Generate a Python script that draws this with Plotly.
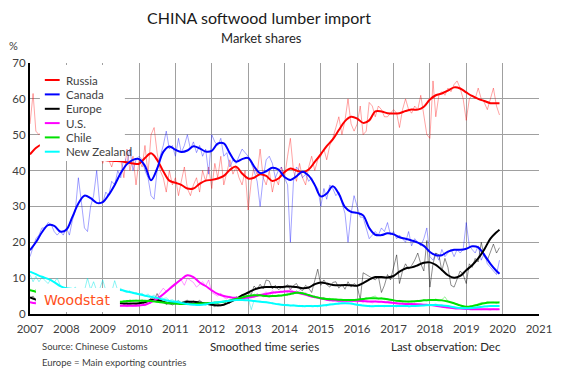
import pandas as pd
import plotly.graph_objects as go

# ---------------- data ----------------
series_names = ["Russia", "Canada", "Europe", "U.S.", "Chile", "New Zealand"]

# monthly shares (%), Jan 2007 .. Dec 2019
russia_m = [
    53, 61.5, 51, 50, 51, 48, 46, 47, 49, 45, 47, 46,
    46, 44, 47, 45, 46, 44, 45, 43, 46, 44, 43, 45,
    42, 44, 43, 41, 44, 43, 43, 38, 46, 40, 44, 36,
    43, 41, 47, 39, 50, 52, 45, 40, 38, 34, 40, 36,
    38, 33, 37, 41, 35, 33, 36, 38, 34, 40, 37, 41,
    35, 42, 38, 44, 36, 40, 43, 39, 41, 38, 36, 40,
    29, 37, 41, 39, 46, 38, 36, 40, 34, 38, 36, 41,
    38, 44, 49, 40, 37, 42, 38, 36, 41, 44, 40, 43,
    44, 46, 43, 47, 49, 52, 55, 50, 54, 60, 53, 51,
    53, 58, 50, 51, 59, 58, 55, 58, 57, 55, 55, 56,
    57, 56, 52, 57, 60, 57, 56, 58, 57, 61, 55, 50,
    49, 65, 55, 61, 62, 61, 63, 62, 64, 65, 63, 60,
    54, 60, 61, 60, 63, 60, 59, 57, 60, 63, 58, 55.5,
]
canada_m = [
    16, 19, 21, 22, 24, 24, 25.5, 25, 23, 22, 23, 22,
    24, 22, 26, 29, 38, 31, 24, 23, 30, 33, 40, 31,
    31, 34, 33, 37, 36, 40, 38, 44, 42, 46, 40, 43,
    44, 43, 40, 38, 33, 32, 40, 44, 47, 51, 46, 47,
    44, 49, 45, 47, 50, 46, 48, 45, 47, 44, 46, 39,
    50, 48, 47, 49, 44, 45, 41, 43, 42, 44, 46, 45,
    44, 42, 40, 37, 30, 38, 43, 44, 42, 38, 40, 41,
    38, 36, 20, 37, 41, 40, 38, 39, 37, 38, 36, 35,
    30, 35, 32, 36, 35, 33, 34, 31, 28, 20, 28, 33,
    30, 27, 27, 24, 21, 22, 23, 22, 24, 23, 25.5, 22,
    23, 21, 22, 21, 20, 23, 19, 21, 20, 19, 21, 24,
    16, 15, 17, 15, 18, 16, 17, 18, 16, 18, 17, 18,
    25.5, 19, 18, 17, 19, 15, 17, 14, 13, 12, 11, 15,
]
europe_m = [
    4.5, 5.0, 3.8, 4.0, 3.5, 3.2, 3.0, 3.5, 3.3, 2.8, 3.0, 3.2,
    3.0, 3.3, 2.8, 3.5, 3.0, 2.9, 3.2, 2.7, 3.1, 3.0, 2.8, 3.0,
    3.2, 2.8, 3.0, 2.7, 3.1, 3.3, 3.5, 2.6, 2.5, 3.1, 2.9, 2.7,
    2.8, 3.4, 2.5, 3.6, 4.5, 3.9, 5.7, 4.0, 3.5, 2.6, 3.0, 2.5,
    3.0, 3.7, 2.8, 3.5, 3.9, 3.0, 3.6, 3.2, 3.8, 3.1, 2.7, 3.0,
    2.5, 2.0, 2.8, 2.3, 2.7, 3.6, 3.0, 4.0, 4.8, 4.5, 5.5, 5.2,
    6.1, 5.4, 7.8, 6.9, 8.3, 7.0, 9.5, 9.2, 7.0, 8.0, 6.8, 7.3,
    7.3, 8.2, 6.8, 7.9, 8.5, 7.0, 6.5, 8.0, 7.2, 6.0, 9.0, 12.5,
    8.0, 9.5, 8.2, 7.5, 8.8, 9.0, 7.2, 8.3, 6.9, 9.0, 7.5, 8.5,
    7.8, 4.0, 11.5, 11.0, 10.5, 10.0, 9.5, 10.5, 6.0, 8.0, 11.0, 9.5,
    13.0, 16.5, 8.5, 12.0, 14.0, 12.5, 13.5, 15.0, 17.0, 14.0, 12.0, 20.5,
    7.5, 14.0, 17.0, 16.5, 12.0, 15.5, 13.0, 8.0, 7.5, 9.5, 12.0, 11.0,
    8.5, 14.0, 13.0, 15.5, 14.5, 20.0, 16.0, 15.0, 17.5, 19.5, 17.0, 18.5,
]
us_m = [
    3.3, 3.0, 3.5, 2.8, 3.0, 2.6, 2.9, 2.5, 2.8, 2.4, 2.6, 2.5,
    2.4, 2.7, 2.3, 2.6, 2.2, 2.5, 2.4, 2.3, 2.6, 2.2, 2.4, 2.5,
    2.3, 2.5, 2.1, 2.4, 2.6, 2.2, 2.3, 2.5, 2.0, 2.4, 2.2, 2.6,
    2.2, 2.5, 2.3, 2.9, 3.0, 4.5, 4.8, 6.0, 7.2, 6.3, 7.0, 7.5,
    8.0, 9.0, 9.5, 8.0, 10.0, 9.3, 8.8, 7.5, 8.3, 9.0, 7.8, 9.5,
    6.0, 5.5, 5.0, 5.8, 4.6, 4.2, 5.0, 4.4, 4.0, 4.5, 3.8, 4.7,
    4.3, 5.3, 4.5, 5.8, 5.0, 5.5, 6.2, 5.0, 6.5, 5.8, 6.3, 6.0,
    6.5, 6.0, 7.0, 6.2, 5.8, 6.5, 5.5, 6.0, 5.2, 4.8, 5.0, 4.5,
    4.2, 4.5, 3.8, 4.0, 3.5, 3.8, 3.3, 3.6, 3.2, 3.8, 3.4, 3.5,
    3.3, 3.6, 3.2, 3.8, 3.5, 3.1, 3.6, 3.3, 3.5, 3.2, 3.4, 3.6,
    3.0, 3.2, 2.7, 3.1, 2.8, 2.9, 2.5, 3.0, 2.6, 2.8, 2.5, 2.7,
    2.6, 2.3, 2.5, 2.2, 2.0, 2.1, 1.8, 1.9, 1.6, 1.7, 1.5, 1.6,
    1.3, 1.5, 1.2, 1.4, 1.3, 1.2, 1.4, 1.3, 1.1, 1.4, 1.2, 1.3,
]
chile_m = [
    7.0, 6.2, 6.8, 5.5, 6.0, 5.2, 5.5, 4.8, 5.0, 4.5, 4.6, 4.2,
    4.3, 4.0, 4.2, 3.8, 3.9, 3.6, 3.7, 3.5, 3.8, 3.4, 3.6, 3.3,
    3.5, 3.2, 3.4, 3.0, 3.3, 3.1, 3.2, 3.8, 3.3, 4.0, 3.5, 3.9,
    3.6, 4.0, 3.5, 3.9, 3.4, 3.8, 3.2, 3.5, 3.0, 3.3, 2.9, 3.1,
    2.8, 3.1, 2.7, 2.9, 2.6, 3.0, 2.7, 2.9, 2.8, 3.2, 2.9, 3.1,
    3.0, 3.3, 3.1, 3.5, 3.3, 3.8, 3.6, 4.3, 4.0, 4.6, 4.4, 5.0,
    5.2, 4.8, 5.6, 5.0, 5.4, 4.8, 5.2, 4.7, 5.3, 4.9, 5.4, 5.0,
    5.5, 5.1, 5.9, 5.5, 6.5, 5.8, 6.0, 5.4, 5.0, 4.8, 4.5, 4.8,
    4.3, 4.6, 4.0, 4.4, 3.8, 4.2, 3.9, 4.0, 3.7, 4.1, 3.8, 4.0,
    4.0, 4.3, 4.1, 4.6, 4.3, 4.8, 5.0, 4.2, 4.6, 4.0, 4.3, 3.9,
    3.9, 3.6, 3.8, 3.4, 3.6, 3.3, 3.7, 3.4, 3.8, 3.5, 4.0, 3.7,
    4.1, 3.8, 4.2, 3.7, 4.0, 4.8, 3.5, 3.2, 3.0, 2.7, 2.4, 2.3,
    2.0, 1.8, 2.3, 2.5, 2.8, 3.2, 3.0, 3.5, 3.2, 3.3, 3.0, 3.4,
]
nz_m = [
    11.0, 9.0, 10.5, 9.0, 10.2, 9.2, 8.5, 9.8, 8.8, 10.0, 8.0, 7.0,
    7.2, 6.5, 6.8, 7.5, 6.0, 7.0, 6.5, 10.0, 6.8, 9.0, 6.5, 7.0,
    9.5, 6.5, 7.0, 6.2, 9.3, 6.5, 7.2, 6.3, 6.0, 6.5, 5.6, 6.0,
    5.5, 5.8, 5.0, 5.6, 4.8, 5.3, 4.5, 5.0, 4.3, 4.5, 3.8, 4.0,
    3.5, 3.8, 3.2, 3.5, 3.0, 3.2, 2.7, 3.0, 2.5, 2.8, 2.4, 2.9,
    3.0, 3.3, 2.9, 3.5, 3.4, 3.8, 3.5, 4.0, 3.7, 4.2, 3.8, 4.1,
    4.5, 1.2, 3.8, 3.5, 3.6, 3.2, 3.4, 3.0, 3.1, 2.7, 2.8, 2.6,
    2.4, 2.7, 2.3, 2.5, 2.2, 2.4, 2.0, 2.3, 2.1, 2.4, 2.2, 2.0,
    2.3, 2.5, 2.2, 2.8, 2.6, 3.0, 2.7, 3.2, 2.9, 3.1, 2.8, 2.6,
    2.5, 2.7, 2.3, 2.4, 2.0, 2.3, 2.1, 2.4, 2.2, 2.0, 2.3, 2.1,
    2.2, 2.0, 2.4, 2.1, 2.3, 2.0, 2.2, 2.5, 2.1, 2.3, 2.6, 2.4,
    2.3, 2.6, 2.8, 2.4, 2.6, 2.1, 2.3, 1.9, 2.0, 1.7, 1.6, 1.8,
    1.5, 1.6, 1.8, 1.7, 2.0, 1.9, 2.2, 2.0, 2.3, 2.1, 2.4, 2.2,
]

# smoothed series, read every second month (Jan, Mar, May, Jul, Sep, Nov) + Dec 2019
russia_s = [
    44.5, 46.3, 47.3, 47.5, 47.0, 46.5,
    46.0, 45.5, 45.0, 44.5, 44.0, 43.5,
    43.0, 42.8, 42.7, 42.6, 42.3, 42.0,
    41.9, 43.5, 44.8, 43.0, 39.8, 37.2,
    36.6, 36.0, 35.0, 35.0, 36.3, 37.2,
    37.4, 37.8, 38.5, 40.2, 41.1, 39.2,
    37.8, 38.0, 39.0, 38.5, 37.1, 37.8,
    39.6, 40.6, 40.0, 39.6, 40.3, 42.4,
    44.6, 46.8, 48.7, 51.3, 53.8, 55.0,
    54.5, 53.3, 54.0, 56.5, 56.5, 56.0,
    55.9, 56.0, 56.6, 57.0, 57.0, 57.8,
    59.8, 61.0, 61.5, 62.3, 63.2, 62.9,
    61.8, 60.8, 60.0, 59.4, 58.8, 58.8,
    58.8,
]
canada_s = [
    17.8, 20.0, 22.8, 24.8, 24.6, 23.0,
    23.5, 27.0, 30.8, 33.0, 32.3, 31.0,
    31.2, 33.2, 36.0, 39.3, 41.8, 43.0,
    43.2, 41.3, 37.3, 40.5, 45.2, 46.7,
    45.8, 45.2, 45.6, 46.8, 46.2, 45.3,
    45.5, 47.5, 47.6, 44.8, 42.5, 43.2,
    43.5, 41.2, 39.3, 39.8, 40.8, 40.3,
    38.2, 37.4, 38.4, 39.7, 38.6, 36.0,
    32.8, 33.6, 35.6, 33.5, 29.8, 28.5,
    28.2, 27.5, 24.0, 22.1, 22.0, 22.5,
    22.2, 21.4, 21.0, 20.5, 19.9, 19.0,
    17.3, 16.4, 16.4, 17.4, 17.9, 17.9,
    18.2, 18.9, 18.6, 16.5, 14.0, 12.0,
    11.2,
]
europe_s = [
    4.6, 4.0, 3.6, 3.3, 3.2, 3.1,
    3.0, 3.0, 3.0, 3.0, 3.0, 3.0,
    3.0, 3.0, 3.0, 3.0, 2.9, 2.9,
    3.0, 3.3, 3.9, 3.9, 3.4, 3.0,
    3.0, 3.1, 3.4, 3.4, 3.2, 2.9,
    2.6, 2.4, 2.6, 3.3, 4.2, 5.2,
    6.0, 6.8, 7.3, 7.5, 7.5, 7.5,
    7.6, 7.7, 7.5, 7.2, 7.4, 8.3,
    8.8, 8.5, 8.1, 8.0, 8.1, 8.0,
    7.9, 8.6, 9.6, 10.3, 10.3, 10.2,
    10.6, 11.8, 12.7, 13.0, 13.6, 14.3,
    14.4, 13.7, 12.3, 10.8, 10.1, 10.6,
    12.2, 13.6, 15.5, 18.0, 21.0, 22.8,
    23.5,
]
us_s = [
    3.3, 3.0, 2.8, 2.7, 2.6, 2.5,
    2.5, 2.4, 2.4, 2.4, 2.4, 2.3,
    2.3, 2.3, 2.3, 2.3, 2.3, 2.3,
    2.4, 2.6, 3.3, 4.2, 5.5, 7.0,
    8.4, 9.7, 10.8, 10.3, 8.8, 7.8,
    6.6, 5.6, 5.0, 4.7, 4.5, 4.4,
    4.6, 4.9, 5.3, 5.6, 5.9, 6.1,
    6.3, 6.3, 6.0, 5.6, 5.1, 4.7,
    4.3, 4.0, 3.8, 3.7, 3.7, 3.7,
    3.7, 3.6, 3.5, 3.5, 3.4, 3.3,
    3.1, 2.9, 2.8, 2.8, 2.7, 2.6,
    2.5, 2.3, 2.0, 1.8, 1.6, 1.5,
    1.4, 1.3, 1.3, 1.3, 1.3, 1.3,
    1.3,
]
chile_s = [
    6.6, 6.2, 5.6, 5.0, 4.6, 4.3,
    4.1, 3.9, 3.7, 3.6, 3.5, 3.4,
    3.3, 3.3, 3.3, 3.4, 3.6, 3.7,
    3.7, 3.7, 3.6, 3.4, 3.2, 3.0,
    2.9, 2.8, 2.8, 2.8, 2.9, 3.0,
    3.1, 3.2, 3.4, 3.8, 4.2, 4.6,
    5.0, 5.2, 5.2, 5.0, 5.0, 5.1,
    5.3, 5.6, 5.9, 5.8, 5.3, 4.8,
    4.4, 4.2, 4.1, 4.0, 3.9, 3.9,
    4.0, 4.2, 4.4, 4.4, 4.3, 4.1,
    3.8, 3.6, 3.5, 3.5, 3.6, 3.8,
    3.9, 3.9, 3.8, 3.5, 3.0, 2.4,
    2.0, 2.2, 2.6, 3.0, 3.2, 3.2,
    3.2,
]
nz_s = [
    11.8, 11.1, 10.4, 9.8, 8.9, 7.8,
    7.2, 7.0, 6.9, 6.9, 6.8, 6.8,
    6.8, 6.8, 6.8, 6.7, 6.3, 5.9,
    5.5, 5.1, 4.8, 4.5, 4.0, 3.6,
    3.4, 3.1, 2.8, 2.6, 2.5, 2.7,
    3.1, 3.3, 3.5, 3.7, 3.9, 3.9,
    3.8, 3.6, 3.4, 3.3, 3.0, 2.7,
    2.5, 2.4, 2.3, 2.2, 2.2, 2.2,
    2.3, 2.5, 2.7, 2.9, 3.0, 2.9,
    2.6, 2.4, 2.2, 2.2, 2.2, 2.2,
    2.2, 2.2, 2.2, 2.2, 2.3, 2.4,
    2.5, 2.5, 2.4, 2.2, 1.9, 1.7,
    1.6, 1.7, 1.9, 2.1, 2.2, 2.2,
    2.2,
]

year_ticks = list(range(2007, 2022))

# ---------------- styling ----------------
thick_colors = ["#ff0000", "#0000ff", "#000000", "#ff00ff", "#00e000", "#00ffff"]
thin_colors = ["rgba(255,0,0,0.36)", "rgba(0,0,255,0.36)", "rgba(0,0,0,0.45)",
               "rgba(255,0,255,0.4)", "rgba(0,220,0,0.4)", "rgba(0,230,230,0.45)"]
FONT = "Lato"
TXT = "#404040"

months = pd.date_range("2007-01-01", periods=len(russia_m), freq="MS")
smooth_dates = list(pd.date_range("2007-01-01", periods=78, freq="2MS")) + [pd.Timestamp("2019-12-01")]

monthly = [russia_m, canada_m, europe_m, us_m, chile_m, nz_m]
smooth = [russia_s, canada_s, europe_s, us_s, chile_s, nz_s]

fig = go.Figure()
for name, vals, col in zip(series_names, monthly, thin_colors):
    fig.add_trace(go.Scatter(x=months, y=vals, mode="lines", name=name + " (monthly)",
                             line=dict(color=col, width=1), showlegend=False, hoverinfo="skip"))
for name, vals, col in zip(series_names, smooth, thick_colors):
    fig.add_trace(go.Scatter(x=smooth_dates, y=vals, mode="lines", name=name,
                             line=dict(color=col, width=2, shape="spline", smoothing=1.0),
                             showlegend=False))

# plot area in pixels: x 30..545, y 63..314
W, H = 564, 371
L, R, T, B = 30, 545, 63, 314

def px(xp):
    return (xp - L) / (R - L)

def py(yp):
    return (B - yp) / (B - T)

shapes = []
annotations = []

# legend box (opaque, covers the series like the original)
shapes.append(dict(type="rect", xref="paper", yref="paper", x0=px(40), x1=px(126), y0=py(161), y1=py(65),
                   fillcolor="white", line=dict(width=0), layer="above"))
leg_y = [80, 94.4, 108.8, 123.1, 137.4, 151.7]
for name, col, yy in zip(series_names, thick_colors, leg_y):
    shapes.append(dict(type="line", xref="paper", yref="paper", x0=px(45), x1=px(60), y0=py(yy), y1=py(yy),
                       line=dict(color=col, width=2), layer="above"))
    annotations.append(dict(text=name, xref="paper", yref="paper", x=px(64), y=py(yy), xanchor="left",
                            yanchor="middle", showarrow=False, font=dict(family=FONT, size=11.5, color=TXT)))

# Woodstat logo box
shapes.append(dict(type="rect", xref="paper", yref="paper", x0=px(36), x1=px(121), y0=py(312), y1=py(288),
                   fillcolor="white", line=dict(width=0), layer="above"))
annotations.append(dict(text="Woodstat", xref="paper", yref="paper", x=px(78), y=py(300), xanchor="center",
                        yanchor="middle", showarrow=False,
                        font=dict(family="DejaVu Sans", size=14, color="#ff5020")))

# titles and footer
annotations += [
    dict(text="CHINA softwood lumber import", xref="paper", yref="paper", x=px(262), y=py(18),
         xanchor="center", yanchor="middle", showarrow=False, font=dict(family=FONT, size=16, color="#1a1a1a")),
    dict(text="Market shares", xref="paper", yref="paper", x=px(264), y=py(38),
         xanchor="center", yanchor="middle", showarrow=False, font=dict(family=FONT, size=13, color="#262626")),
    dict(text="%", xref="paper", yref="paper", x=px(7), y=py(45),
         xanchor="left", yanchor="middle", showarrow=False, font=dict(family=FONT, size=11, color=TXT)),
    dict(text="Source: Chinese Customs", xref="paper", yref="paper", x=px(40), y=py(347),
         xanchor="left", yanchor="middle", showarrow=False, font=dict(family=FONT, size=9.5, color=TXT)),
    dict(text="Europe = Main exporting countries", xref="paper", yref="paper", x=px(40), y=py(362),
         xanchor="left", yanchor="middle", showarrow=False, font=dict(family=FONT, size=9.5, color=TXT)),
    dict(text="Smoothed time series", xref="paper", yref="paper", x=px(267), y=py(347),
         xanchor="center", yanchor="middle", showarrow=False, font=dict(family=FONT, size=11.5, color="#262626")),
    dict(text="Last observation: Dec", xref="paper", yref="paper", x=px(509), y=py(347),
         xanchor="right", yanchor="middle", showarrow=False, font=dict(family=FONT, size=11.5, color="#262626")),
]

fig.update_layout(
    width=W, height=H,
    margin=dict(l=L, r=W - R, t=T, b=H - B),
    paper_bgcolor="white", plot_bgcolor="white",
    showlegend=False,
    shapes=shapes, annotations=annotations,
    font=dict(family=FONT, color=TXT),
)
fig.update_xaxes(
    type="date", range=["2007-01-01", "2021-01-01"],
    tickvals=[f"{y}-01-01" for y in year_ticks], ticktext=[str(y) for y in year_ticks],
    showgrid=True, gridcolor="#a0a0a0", gridwidth=1,
    showline=True, linecolor="black", linewidth=2,
    ticks="outside", ticklen=3, tickcolor="rgba(0,0,0,0)",
    tickfont=dict(family=FONT, size=11.5, color=TXT),
    zeroline=False,
)
fig.update_yaxes(
    range=[0, 70], tickvals=[0, 10, 20, 30, 40, 50, 60, 70],
    showgrid=True, gridcolor="#a0a0a0", gridwidth=1,
    showline=True, linecolor="black", linewidth=2,
    ticks="", tickfont=dict(family=FONT, size=11.5, color=TXT),
    zeroline=False,
)

fig.write_html(
    "out.html",
    config={"displayModeBar": False},
    post_script="document.body.style.margin='0';document.body.style.padding='0';document.body.style.overflow='hidden';",
)
